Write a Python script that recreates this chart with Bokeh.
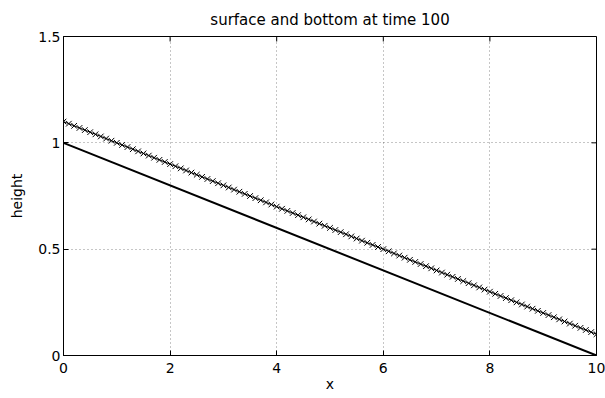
from bokeh.plotting import figure
from bokeh.models import LinearAxis, Range1d, FixedTicker, Title
from bokeh.embed import file_html
from bokeh.resources import INLINE

x_surface = [0.0, 0.1, 0.2, 0.3, 0.4, 0.5, 0.6, 0.7, 0.8, 0.9,
             1.0, 1.1, 1.2, 1.3, 1.4, 1.5, 1.6, 1.7, 1.8, 1.9,
             2.0, 2.1, 2.2, 2.3, 2.4, 2.5, 2.6, 2.7, 2.8, 2.9,
             3.0, 3.1, 3.2, 3.3, 3.4, 3.5, 3.6, 3.7, 3.8, 3.9,
             4.0, 4.1, 4.2, 4.3, 4.4, 4.5, 4.6, 4.7, 4.8, 4.9,
             5.0, 5.1, 5.2, 5.3, 5.4, 5.5, 5.6, 5.7, 5.8, 5.9,
             6.0, 6.1, 6.2, 6.3, 6.4, 6.5, 6.6, 6.7, 6.8, 6.9,
             7.0, 7.1, 7.2, 7.3, 7.4, 7.5, 7.6, 7.7, 7.8, 7.9,
             8.0, 8.1, 8.2, 8.3, 8.4, 8.5, 8.6, 8.7, 8.8, 8.9,
             9.0, 9.1, 9.2, 9.3, 9.4, 9.5, 9.6, 9.7, 9.8, 9.9,
             10.0]
surface = [1.10, 1.09, 1.08, 1.07, 1.06, 1.05, 1.04, 1.03, 1.02, 1.01,
           1.00, 0.99, 0.98, 0.97, 0.96, 0.95, 0.94, 0.93, 0.92, 0.91,
           0.90, 0.89, 0.88, 0.87, 0.86, 0.85, 0.84, 0.83, 0.82, 0.81,
           0.80, 0.79, 0.78, 0.77, 0.76, 0.75, 0.74, 0.73, 0.72, 0.71,
           0.70, 0.69, 0.68, 0.67, 0.66, 0.65, 0.64, 0.63, 0.62, 0.61,
           0.60, 0.59, 0.58, 0.57, 0.56, 0.55, 0.54, 0.53, 0.52, 0.51,
           0.50, 0.49, 0.48, 0.47, 0.46, 0.45, 0.44, 0.43, 0.42, 0.41,
           0.40, 0.39, 0.38, 0.37, 0.36, 0.35, 0.34, 0.33, 0.32, 0.31,
           0.30, 0.29, 0.28, 0.27, 0.26, 0.25, 0.24, 0.23, 0.22, 0.21,
           0.20, 0.19, 0.18, 0.17, 0.16, 0.15, 0.14, 0.13, 0.12, 0.11,
           0.10]
x_bottom = [0.0, 10.0]
bottom = [1.0, 0.0]

x_ticks = [0, 2, 4, 6, 8, 10]
y_ticks = [0, 0.5, 1, 1.5]

FONT = "DejaVu Sans"
X0, X1, Y0, Y1 = 0, 10, 0, 1.5
FRAME_W, FRAME_H = 533, 320
TICK = 5

p = figure(width=605, height=398, output_backend="svg", toolbar_location=None,
           x_range=Range1d(X0, X1), y_range=Range1d(Y0, Y1),
           min_border_left=63, min_border_right=9, min_border_top=35,
           min_border_bottom=43, x_axis_location=None, y_axis_location=None)
p.outline_line_color = "black"
p.outline_line_width = 1
p.background_fill_color = "white"
p.border_fill_color = "white"

t = Title(text="surface and bottom at time 100", text_font=FONT,
          text_font_size="15px", text_font_style="normal", align="center",
          text_color="black", offset=0, standoff=16)
p.add_layout(t, "above")

def style(ax, ticks):
    ax.ticker = FixedTicker(ticks=ticks)
    ax.axis_line_color = "black"
    ax.major_tick_in = TICK
    ax.major_tick_out = 0
    ax.minor_tick_line_color = None
    ax.major_tick_line_color = "black"
    ax.major_label_text_font = FONT
    ax.major_label_text_font_size = "14px"
    ax.major_label_text_color = "black"
    ax.axis_label_text_font = FONT
    ax.axis_label_text_font_size = "14px"
    ax.axis_label_text_font_style = "normal"
    ax.axis_label_text_color = "black"

xb = LinearAxis(axis_label="x")
style(xb, x_ticks)
xb.major_label_standoff = 7
xb.axis_label_standoff = 0
p.add_layout(xb, "below")

yl = LinearAxis(axis_label="height")
style(yl, y_ticks)
yl.major_label_standoff = 3
yl.axis_label_standoff = 10
yl.major_label_orientation = "horizontal"
p.add_layout(yl, "left")

# inward ticks on the top and right sides of the box
dy = TICK * (Y1 - Y0) / FRAME_H
dx = TICK * (X1 - X0) / FRAME_W
p.segment(x0=x_ticks, y0=[Y1] * len(x_ticks), x1=x_ticks, y1=[Y1 - dy] * len(x_ticks),
          line_color="black", line_width=1)
p.segment(x0=[X1] * len(y_ticks), y0=y_ticks, x1=[X1 - dx] * len(y_ticks), y1=y_ticks,
          line_color="black", line_width=1)

p.xgrid.ticker = FixedTicker(ticks=x_ticks)
p.ygrid.ticker = FixedTicker(ticks=y_ticks)
for g in (p.xgrid, p.ygrid):
    g.grid_line_color = "black"
    g.grid_line_alpha = 0.45
    g.grid_line_dash = "1 3"
    g.grid_line_width = 1

p.line(x_bottom, bottom, line_color="black", line_width=2)
p.line(x_surface, surface, line_color="black", line_width=1)
p.scatter(x_surface, surface, marker="x", size=8, line_color="black", line_width=1)

open("out.html", "w").write(file_html(p, INLINE))
